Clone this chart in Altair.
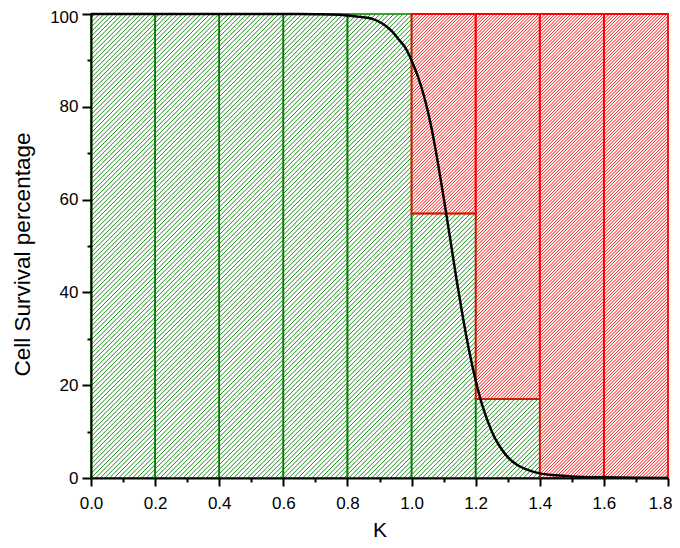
import math
import altair as alt
import pandas as pd

# ---- data ----
bin_start = [0.0, 0.2, 0.4, 0.6, 0.8, 1.0, 1.2, 1.4, 1.6]
bin_end = [0.2, 0.4, 0.6, 0.8, 1.0, 1.2, 1.4, 1.6, 1.8]
alive_pct = [100, 100, 100, 100, 100, 57, 17, 0, 0]
total_pct = 100

curve_k = [0.0, 0.2, 0.4, 0.6, 0.7, 0.75, 0.8, 0.85, 0.88, 0.91, 0.94, 0.96, 0.98,
           1.00, 1.02, 1.04, 1.06, 1.08, 1.10, 1.12, 1.14, 1.16, 1.18, 1.20, 1.22,
           1.24, 1.26, 1.28, 1.30, 1.33, 1.36, 1.40, 1.45, 1.50, 1.60, 1.70, 1.80]
curve_pct = [100, 100, 100, 100, 99.95, 99.9, 99.7, 99.3, 98.9, 97.9, 96.2, 94.5, 92.8,
             90.0, 86.5, 82.0, 76.2, 68.8, 60.5, 51.8, 42.9, 34.7, 27.3, 21.0, 15.8,
             11.8, 8.6, 6.3, 4.5, 2.8, 1.8, 1.0, 0.6, 0.35, 0.15, 0.05, 0.02]

x_ticks = [round(i * 0.1, 1) for i in range(19)]
y_ticks = list(range(0, 101, 10))

W, H = 577, 464
XMAX, YMAX = 1.8, 100
GREEN = "#008000"
RED = "#ff0000"

green = pd.DataFrame([{"x": a, "x2": b, "y": 0, "y2": v}
                      for a, b, v in zip(bin_start, bin_end, alive_pct) if v > 0])
red = pd.DataFrame([{"x": a, "x2": b, "y": v, "y2": total_pct}
                    for a, b, v in zip(bin_start, bin_end, alive_pct) if v < total_pct])
curve = pd.DataFrame({"x": curve_k, "y": curve_pct})


def hatch(df, spacing):
    """45-degree hatch segments clipped to each bar rectangle."""
    rows = []
    for r in df.itertuples():
        a = r.x / XMAX * W
        b = r.x2 / XMAX * W
        c = r.y / YMAX * H
        d = r.y2 / YMAX * H
        k = math.ceil((a - d) / spacing) * spacing
        while k < b - c:
            lo = max(a, c + k)
            hi = min(b, d + k)
            if hi - lo > 0.05:
                rows.append({"x": lo / W * XMAX, "y": (lo - k) / H * YMAX,
                             "x2": hi / W * XMAX, "y2": (hi - k) / H * YMAX})
            k += spacing
    return pd.DataFrame(rows)


green_h = hatch(green, 4.6)
red_h = hatch(red, 3.2)

xs = alt.Scale(domain=[0, XMAX], nice=False, zero=False)
ys = alt.Scale(domain=[0, YMAX], nice=False, zero=False)

x_major = "abs(datum.value*5 - round(datum.value*5)) < 0.01"
y_major = "datum.value % 20 == 0"

common_axis = dict(
    grid=False, domainColor="black", domainWidth=2, tickColor="black", tickWidth=2,
    labelFont="Liberation Sans", labelFontSize=17, labelColor="black",
    titleFont="Liberation Sans", titleFontWeight="normal",
    titleColor="black", labelOverlap=False, labelFlush=False, zindex=1,
)

xaxis = alt.Axis(
    values=x_ticks,
    tickSize={"condition": {"test": x_major, "value": 8}, "value": 4},
    labelExpr=f"{x_major} ? format(datum.value, '.1f') : ''",
    labelAlign={"condition": {"test": "datum.value > 1.75", "value": "right"}, "value": "center"},
    labelOffset={"condition": {"test": "datum.value > 1.75", "value": 4}, "value": 0},
    labelBaseline="alphabetic", labelPadding=22,
    titleY=58, titleBaseline="alphabetic", titleFontSize=21,
    **common_axis,
)
yaxis = alt.Axis(
    values=y_ticks,
    tickSize={"condition": {"test": y_major, "value": 9}, "value": 4},
    labelExpr=f"{y_major} ? datum.label : ''",
    labelOffset={"condition": {"test": "datum.value == 100", "value": 3}, "value": 0},
    labelPadding=4,
    titleX=-62, titleY=240, titleAngle=-90, titleBaseline="alphabetic", titleAlign="center",
    titleFontSize=22.5,
    **common_axis,
)

X = alt.X("x:Q", scale=xs, axis=xaxis, title="K")
Y = alt.Y("y:Q", scale=ys, axis=yaxis, title="Cell Survival percentage")

g_hatch = alt.Chart(green_h).mark_rule(color=GREEN, strokeWidth=0.9).encode(
    x=X, y=Y, x2="x2:Q", y2="y2:Q")
r_hatch = alt.Chart(red_h).mark_rule(color=RED, strokeWidth=0.9).encode(
    x=X, y=Y, x2="x2:Q", y2="y2:Q")
g_rect = alt.Chart(green).mark_rect(fillOpacity=0, stroke=GREEN, strokeWidth=1.6).encode(
    x=X, y=Y, x2="x2:Q", y2="y2:Q")
r_rect = alt.Chart(red).mark_rect(fillOpacity=0, stroke=RED, strokeWidth=1.8).encode(
    x=X, y=Y, x2="x2:Q", y2="y2:Q")
line = alt.Chart(curve).mark_line(color="black", strokeWidth=2.5, interpolate="monotone").encode(
    x=X, y=Y)

chart = alt.layer(g_hatch, r_hatch, g_rect, r_rect, line).properties(
    width=W, height=H,
    padding={"left": 83, "top": 6, "right": 4, "bottom": 62},
    autosize=alt.AutoSizeParams(type="none"),
    background="white",
).configure_view(strokeWidth=0)

chart.save("out.html", embed_options={"renderer": "svg", "actions": False})
